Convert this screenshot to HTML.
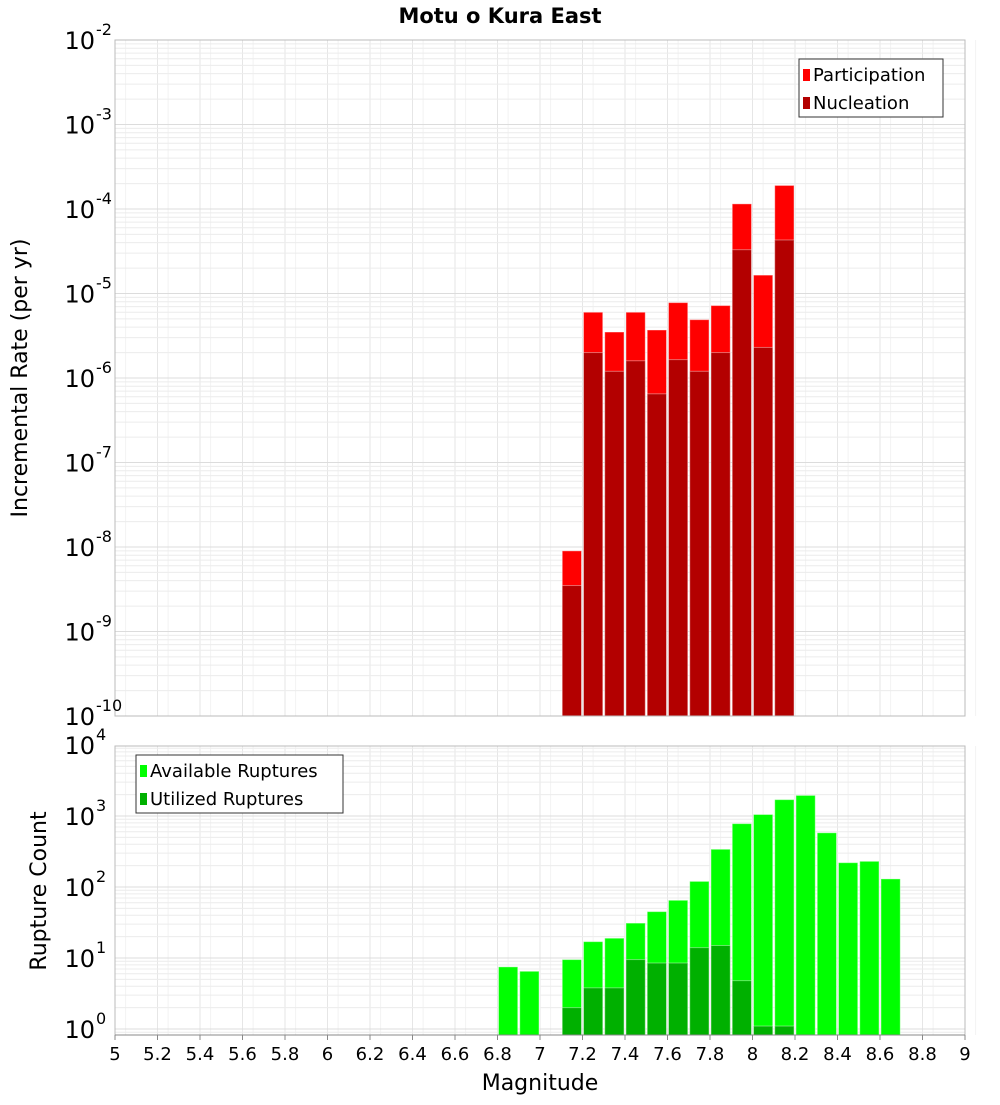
<!DOCTYPE html>
<html><head><meta charset="utf-8"><style>
body{margin:0;background:#fff;font-family:"Liberation Sans","DejaVu Sans",sans-serif}
</style></head><body>
<svg id="c" width="1000" height="1100" xmlns="http://www.w3.org/2000/svg" style="font-family:'DejaVu Sans','Liberation Sans',sans-serif">
<text x="500" y="23" text-anchor="middle" font-size="21" font-weight="bold">Motu o Kura East</text>
<g id="top"></g><g id="bot"></g>
<text transform="translate(27,378) rotate(-90)" text-anchor="middle" font-size="22">Incremental Rate (per yr)</text>
<text transform="translate(46,891) rotate(-90)" text-anchor="middle" font-size="22">Rupture Count</text>
<text x="540" y="1090" text-anchor="middle" font-size="22">Magnitude</text>
</svg>
<script>
const mags=[7.15,7.25,7.35,7.45,7.55,7.65,7.75,7.85,7.95,8.05,8.15];
const participation=[9e-9,6e-6,3.5e-6,6e-6,3.7e-6,7.8e-6,4.9e-6,7.2e-6,1.15e-4,1.65e-5,1.9e-4];
const nucleation=[3.5e-9,2e-6,1.2e-6,1.6e-6,6.5e-7,1.65e-6,1.2e-6,2e-6,3.3e-5,2.3e-6,4.3e-5];
const magsB=[6.85,6.95,7.15,7.25,7.35,7.45,7.55,7.65,7.75,7.85,7.95,8.05,8.15,8.25,8.35,8.45,8.55,8.65];
const available=[7.5,6.5,9.5,17,19,31,45,65,120,340,780,1050,1700,1950,580,220,230,130];
const utilized=[0,0,2,3.8,3.8,9.5,8.5,8.5,14,15,4.8,1.1,1.1,0,0,0,0,0];
const xTicks=[5,5.2,5.4,5.6,5.8,6,6.2,6.4,6.6,6.8,7,7.2,7.4,7.6,7.8,8,8.2,8.4,8.6,8.8,9];
const topExp=[-10,-9,-8,-7,-6,-5,-4,-3,-2];
const botExp=[0,1,2,3,4];
const NS="http://www.w3.org/2000/svg";
const X0=115,X1=965;
const xs=m=>X0+(m-5)/4*(X1-X0);
const yT=v=>40+(-2-Math.log10(v))*84.5;
const yB=v=>1029-Math.log10(v)*71;
function el(p,t,a){const e=document.createElementNS(NS,t);for(const k in a)e.setAttribute(k,a[k]);p.appendChild(e);return e;}
function grid(g,top,bottom,ylog,e0,e1,name){
  for(const t of xTicks){const l=el(g,'line',{x1:xs(t),x2:xs(t),y1:top,y2:bottom,stroke:'#e6e6e6'});
  
  const h=el(g,'line',{x1:(xs(t)+xs(t+0.1))/2,x2:(xs(t)+xs(t+0.1))/2,y1:top,y2:bottom,stroke:'#f2f2f2'});}
  for(let e=e0;e<e1;e++)for(let k=1;k<10;k++){const y=ylog(k*Math.pow(10,e));if(y<top||y>bottom)continue;
  const l=el(g,'line',{x1:X0,x2:X1,y1:y,y2:y,stroke:k==1?'#dcdcdc':'#ececec'});
  }
}
function bars(g,ms,vals,ylog,base,color,name){
  ms.forEach((m,i)=>{if(!vals[i])return;const y=ylog(vals[i]);
  const r=el(g,'rect',{x:xs(m-0.05)+1,y:y,width:xs(m+0.05)-xs(m-0.05)-2,height:base-y,fill:color,stroke:'#fff','stroke-opacity':0.4,'stroke-width':1});
  });
}
function ylabels(g,exps,ylog,x){
  for(const e of exps){const y=ylog(Math.pow(10,e));const t=el(g,'text',{x:x,y:y+9,'font-size':24,'text-anchor':'end'});
  
  t.textContent='10';const s=el(g,'text',{x:x+1,y:y-5,'font-size':16});s.textContent=String(e);}
}
function legend(g,x,y,w,items,name){
  const b=el(g,'rect',{x:x,y:y,width:w,height:58,fill:'#fff',stroke:'#333'});
  
  items.forEach((it,i)=>{el(g,'rect',{x:x+4,y:y+10+i*28,width:7,height:12,fill:it[1]});
  const t=el(g,'text',{x:x+14,y:y+22+i*28,'font-size':18});t.textContent=it[0];
  });
}
const T=document.getElementById('top'),B=document.getElementById('bot');
grid(T,40,716,yT,-10,-2,'top');
bars(T,mags,participation,yT,716,'#ff0000','participation');
bars(T,mags,nucleation,yT,716,'#b30000','nucleation');
el(T,'rect',{x:X0,y:40,width:X1-X0,height:676,fill:'none',stroke:'#bbb'});
ylabels(T,topExp,yT,95);
legend(T,799,59,144,[['Participation','#ff0000'],['Nucleation','#b30000']],'top-legend');
grid(B,746,1035,yB,-1,4,'bottom');
bars(B,magsB,available,yB,1035,'#00ff00','available');
bars(B,magsB,utilized,yB,1035,'#00b000','utilized');
el(B,'rect',{x:X0,y:746,width:X1-X0,height:289,fill:'none',stroke:'#bbb'});
el(B,'line',{x1:X0,x2:X1,y1:1035,y2:1035,stroke:'#888'});
ylabels(B,botExp,yB,95);
legend(B,136,755,207,[['Available Ruptures','#00ff00'],['Utilized Ruptures','#00b000']],'bottom-legend');
for(const t of xTicks){const x=xs(t);el(B,'line',{x1:x,x2:x,y1:1035,y2:1040,stroke:'#888'});
const l=el(B,'text',{x:x,y:1060,'font-size':18,'text-anchor':'middle'});l.textContent=String(t);
}
</script>
</body></html>
